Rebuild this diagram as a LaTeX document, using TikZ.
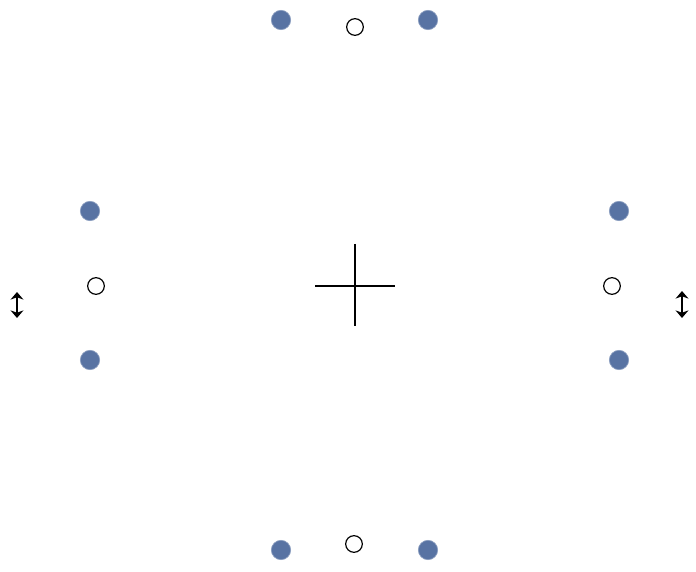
\documentclass[tikz,border=0pt]{standalone}
\usepackage{tikz}
\usetikzlibrary{arrows.meta,positioning,calc}
\usepackage{xcolor}
\definecolor{DotBlue}{HTML}{5873A3}

\begin{document}
\begin{tikzpicture}[x=0.03cm,y=-0.03cm,>={Stealth[length=6.5pt,width=11pt,inset=2pt]},
  pin/.style={circle,fill=DotBlue,draw=DotBlue!70,line width=0.6pt,minimum size=0.58cm,inner sep=0pt},
  hole/.style={circle,draw,line width=1pt,minimum size=0.5cm,inner sep=0pt}]
  \useasboundingbox (0,0) rectangle (696,572);
  % top
  \node[pin] (tl) at (281,20) {};
  \node[hole] (t) at (355,27) {};
  \node[pin] (tr) at (428,20) {};
  % left
  \node[pin] (lt) at (90,211) {};
  \node[hole] (l) at (96,286) {};
  \node[pin] (lb) at (90,360) {};
  % right
  \node[pin] (rt) at (619,211) {};
  \node[hole] (r) at (612,286) {};
  \node[pin] (rb) at (619,360) {};
  % bottom
  \node[pin] (bl) at (281,550) {};
  \node[hole] (b) at (354,544) {};
  \node[pin] (br) at (428,550) {};
  % centre cross
  \coordinate (cw) at (315,286);
  \coordinate (ce) at (395,286);
  \coordinate (cn) at (355,244);
  \coordinate (cs) at (355,326);
  \draw[line width=1pt] (cw)--(ce) (cn)--(cs);
  % arrows
  \coordinate (al1) at (17,292);
  \coordinate (al2) at (17,318);
  \coordinate (ar1) at (682,291);
  \coordinate (ar2) at (682,318);
  \draw[<->,line width=1.3pt] (al1)--(al2);
  \draw[<->,line width=1.3pt] (ar1)--(ar2);
\end{tikzpicture}
\end{document}
